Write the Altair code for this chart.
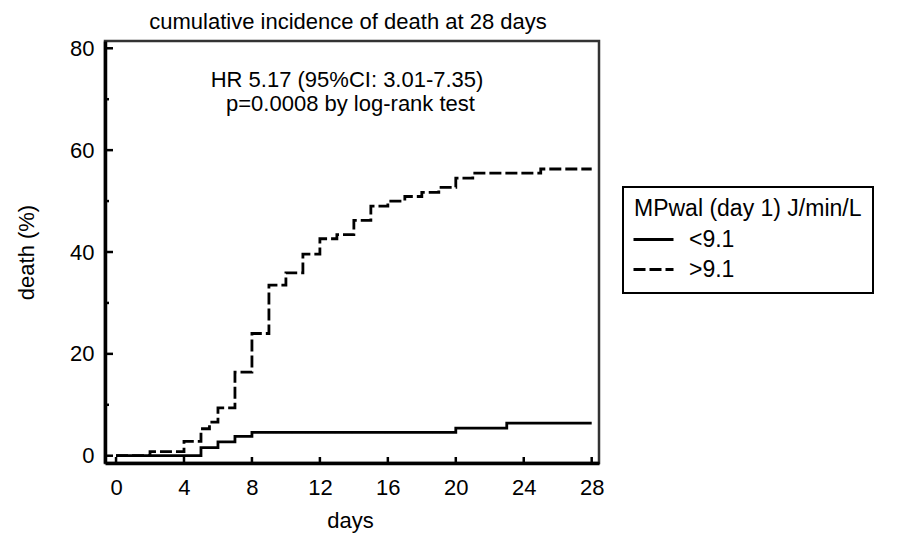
import altair as alt
import pandas as pd

TITLE = "cumulative incidence of death at 28 days"
ANNOT_1 = "HR 5.17 (95%CI: 3.01-7.35)"
ANNOT_2 = "p=0.0008 by log-rank test"
LEGEND_TITLE = "MPwal (day 1) J/min/L"
GROUPS = ["<9.1", ">9.1"]

DAYS_LOW = [0, 5, 6, 7, 8, 20, 23, 28]
PCT_LOW = [0, 1.6, 2.7, 3.8, 4.6, 5.4, 6.4, 6.4]

DAYS_HIGH = [0, 2, 4, 5, 5.5, 6, 7, 8, 9, 10, 11, 12, 13, 14, 15, 16, 17, 18, 19, 20, 21, 25, 28]
PCT_HIGH = [0, 0.8, 2.8, 5.3, 6.6, 9.4, 16.4, 24.0, 33.5, 35.9, 39.6, 42.6, 43.4, 46.2,
            49.0, 50.0, 50.9, 51.7, 52.7, 54.5, 55.5, 56.3, 56.3]

X_TICKS = [0, 4, 8, 12, 16, 20, 24, 28]
Y_MAJOR = [0, 20, 40, 60, 80]
Y_MINOR = [10, 30, 50, 70]

rows = [{"day": d, "pct": p, "group": GROUPS[0]} for d, p in zip(DAYS_LOW, PCT_LOW)]
rows += [{"day": d, "pct": p, "group": GROUPS[1]} for d, p in zip(DAYS_HIGH, PCT_HIGH)]
df = pd.DataFrame(rows)

FONT = "Liberation Sans"
xscale = alt.Scale(domain=[-0.65, 28.43], nice=False, zero=False)
yscale = alt.Scale(domain=[-1.43, 81.43], nice=False, zero=False)

X_AX = alt.Axis(values=X_TICKS, title="days", labelPadding=14, titleBaseline="alphabetic",
                titleY=64, titleX=245, format="d")
Y_AX = alt.Axis(values=Y_MAJOR, title="death (%)", labelPadding=11, titleBaseline="alphabetic",
                titleX=-72, titleY=211, titleAngle=270, format="d")

lines = alt.Chart(df).mark_line(interpolate="step-after", strokeWidth=2.8, color="black").encode(
    x=alt.X("day:Q", scale=xscale, axis=X_AX),
    y=alt.Y("pct:Q", scale=yscale, axis=Y_AX),
    strokeDash=alt.StrokeDash(
        "group:N",
        scale=alt.Scale(domain=GROUPS, range=[[1, 0], [12, 4]]),
        legend=alt.Legend(
            title=LEGEND_TITLE, orient="none", legendX=518, legendY=146,
            symbolType="M-2,0H2", symbolSize=400, symbolStrokeWidth=3,
            symbolStrokeColor="black", symbolOffset=8, labelOffset=24,
            padding=11, titlePadding=7, rowPadding=6, strokeColor="black",
            fillColor="white", titleFont=FONT, titleFontSize=23, titleFontWeight="normal",
            titleColor="black", titleLimit=500, labelFont=FONT, labelFontSize=23,
            labelColor="black",
        ),
    ),
)

ytick_major = alt.Chart(pd.DataFrame({"v": Y_MAJOR})).mark_rule(color="black", strokeWidth=2.5).encode(
    y=alt.Y("v:Q", scale=yscale, axis=Y_AX), x=alt.value(0), x2=alt.value(8)
)
ytick_minor = alt.Chart(pd.DataFrame({"v": Y_MINOR})).mark_rule(color="black", strokeWidth=2.5).encode(
    y=alt.Y("v:Q", scale=yscale, axis=Y_AX), x=alt.value(0), x2=alt.value(4)
)
xtick = alt.Chart(pd.DataFrame({"v": X_TICKS})).mark_rule(color="black", strokeWidth=2.5).encode(
    x=alt.X("v:Q", scale=xscale, axis=X_AX), y=alt.value(422), y2=alt.value(416)
)

annot1 = alt.Chart(pd.DataFrame({"t": [ANNOT_1]})).mark_text(
    font=FONT, fontSize=22, baseline="alphabetic", align="center", color="black"
).encode(x=alt.datum(13.6), y=alt.datum(72.3), text="t:N")
annot2 = alt.Chart(pd.DataFrame({"t": [ANNOT_2]})).mark_text(
    font=FONT, fontSize=22, baseline="alphabetic", align="center", color="black"
).encode(x=alt.datum(13.8), y=alt.datum(67.6), text="t:N")

chart = alt.layer(lines, ytick_major, ytick_minor, xtick, annot1, annot2).properties(
    width=494,
    height=422,
    autosize=alt.AutoSizeParams(type="none"),
    padding={"left": 105, "top": 41, "right": 320, "bottom": 73},
    title=alt.TitleParams(TITLE, font=FONT, fontSize=22, fontWeight="normal", color="black",
                          anchor="middle", dx=-4, dy=24, offset=10, baseline="alphabetic"),
    background="white",
).configure_view(
    stroke="#333", strokeWidth=2.5
).configure_axis(
    domainColor="black", domainWidth=3.5, labelFont=FONT, labelFontSize=22, labelColor="black",
    titleFont=FONT, titleFontSize=22, titleFontWeight="normal", titleColor="black",
    grid=False, ticks=False, tickSize=0,
).configure_legend(strokeWidth=2)

chart.save("out.html", embed_options={"renderer": "svg", "actions": False})
